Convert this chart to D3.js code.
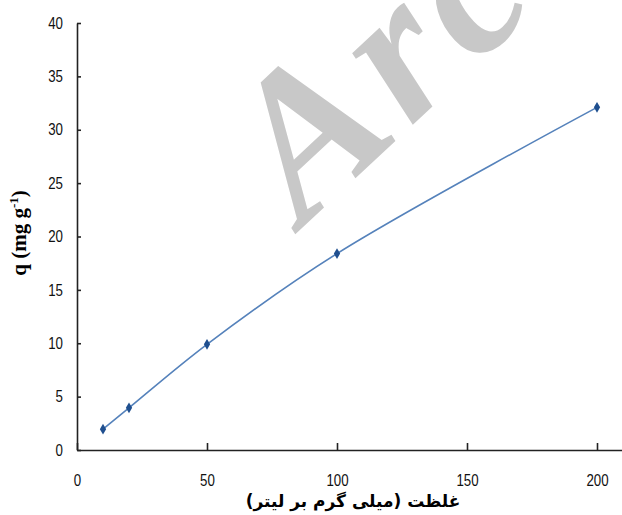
<!DOCTYPE html>
<html>
<head>
<meta charset="utf-8">
<script src="https://cdn.jsdelivr.net/npm/d3@7"></script>
<style>
body { margin: 0; background: #fff; }
.tick text { font-family: "Liberation Sans Narrow", "Arial Narrow", "Liberation Sans", Arial, sans-serif; font-size: 16px; fill: #111; }
</style>
</head>
<body>
<div id="chart"></div>
<script>
// concentration (mg/L) and uptake q (mg/g)
var concentration = [10, 20, 50, 100, 200];
var uptake = [1.95, 3.95, 9.9, 18.4, 32.1];
var xTicks = [0, 50, 100, 150, 200];
var yTicks = [0, 5, 10, 15, 20, 25, 30, 35, 40];

var width = 622, height = 515;

var svg = d3.select("#chart").append("svg")
    .attr("width", width)
    .attr("height", height);

var x = d3.scaleLinear().domain([0, 210]).range([77, 623]);
var y = d3.scaleLinear().domain([0, 40]).range([450, 23]);

// watermark
svg.append("text")
    .attr("transform", "translate(303,227) rotate(-43)")
    .style("font-family", "'Liberation Serif', 'Times New Roman', serif")
    .style("font-size", "204px")
    .style("font-weight", "bold")
    .style("font-style", "italic")
    .style("letter-spacing", "10px")
    .style("fill", "#c8c8c8")
    .text("Arch");

var xAxis = svg.append("g")
    .attr("transform", "translate(0," + y(0) + ")")
    .call(d3.axisBottom(x).tickValues(xTicks).tickSize(-7).tickSizeOuter(0).tickPadding(25));

var yAxis = svg.append("g")
    .attr("transform", "translate(" + x(0) + ",0)")
    .call(d3.axisLeft(y).tickValues(yTicks).tickSize(-4).tickSizeOuter(0).tickPadding(17));

svg.selectAll(".tick text").attr("transform", "scale(0.83,1)");
svg.selectAll(".domain, .tick line").attr("stroke", "#222").attr("stroke-width", 1.6);

var pts = concentration.map(function(c, i) { return [c, uptake[i]]; });

var line = d3.line()
    .x(function(d) { return x(d[0]); })
    .y(function(d) { return y(d[1]); })
    .curve(d3.curveCatmullRom.alpha(0.5));

svg.append("path")
    .datum(pts)
    .attr("d", line)
    .attr("fill", "none")
    .attr("stroke", "#5582bb")
    .attr("stroke-width", 1.6);

svg.selectAll(".pt")
    .data(pts)
    .enter()
    .append("path")
    .attr("class", "pt")
    .attr("transform", function(d) { return "translate(" + x(d[0]) + "," + y(d[1]) + ")"; })
    .attr("d", d3.symbol().type(d3.symbolDiamond).size(34))
    .attr("fill", "#1f4f8f");

// axis titles
svg.append("text")
    .attr("transform", "translate(26,233) rotate(-90)")
    .attr("text-anchor", "middle")
    .style("font-family", "'Liberation Serif', 'Times New Roman', serif")
    .style("font-size", "21px")
    .style("font-weight", "bold")
    .html("q (mg g<tspan dy='-8' font-size='13'>-1</tspan><tspan dy='8'>)</tspan>");

svg.append("text")
    .attr("x", 353)
    .attr("y", 507)
    .attr("text-anchor", "middle")
    .attr("direction", "rtl")
    .style("font-family", "'DejaVu Sans', 'Noto Sans', sans-serif")
    .style("font-size", "17px")
    .style("font-weight", "bold")
    .text("غلظت (میلی گرم بر لیتر)");
</script>
</body>
</html>
